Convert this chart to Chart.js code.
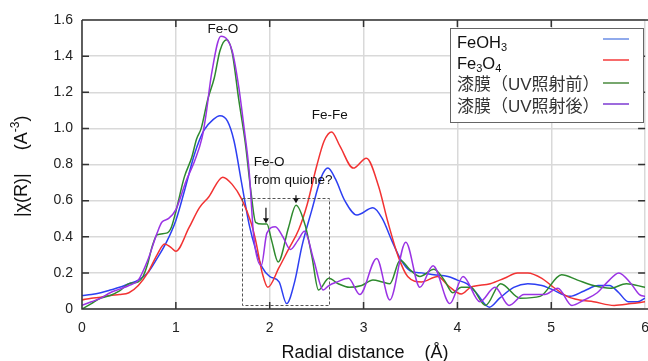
<!DOCTYPE html>
<html><head><meta charset="utf-8">
<script src="https://cdn.jsdelivr.net/npm/chart.js@4"></script>
<style>html,body{margin:0;padding:0;overflow:hidden;background:#fff}#wrap{width:660px;height:361px}</style>
</head><body><div id="wrap"><canvas id="c" width="660" height="361" style="width:660px;height:361px"></canvas></div>
<script>
// ---- data (radial distance Å, |χ(R)|) ----
const rBlue=[0,0.1,0.2,0.3,0.4,0.5,0.6,0.7,0.8,0.9,1.0,1.1,1.2,1.3,1.4,1.47,1.55,1.62,1.7,1.78,1.85,1.92,2.0,2.1,2.18,2.27,2.34,2.45,2.55,2.62,2.7,2.8,2.93,3.1,3.2,3.3,3.4,3.5,3.62,3.75,3.9,4.0,4.1,4.2,4.34,4.45,4.6,4.75,4.9,5.0,5.2,5.35,5.5,5.62,5.72,5.82,5.92,6.0];
const vBlue=[0.075,0.08,0.09,0.105,0.12,0.14,0.16,0.2,0.28,0.37,0.49,0.67,0.86,0.99,1.05,1.07,1.04,0.93,0.7,0.47,0.33,0.23,0.18,0.15,0.03,0.16,0.34,0.55,0.73,0.78,0.72,0.6,0.52,0.56,0.5,0.38,0.27,0.21,0.2,0.19,0.18,0.16,0.14,0.09,0.01,0.06,0.12,0.14,0.13,0.11,0.07,0.1,0.13,0.13,0.09,0.04,0.04,0.06];
const rRed=[0,0.1,0.2,0.3,0.4,0.5,0.6,0.7,0.8,0.88,0.95,1.0,1.14,1.25,1.35,1.5,1.6,1.7,1.8,1.85,1.92,1.98,2.1,2.2,2.31,2.4,2.5,2.58,2.66,2.75,2.89,3.03,3.16,3.26,3.37,3.47,3.62,3.79,3.9,4.04,4.14,4.35,4.5,4.64,4.75,4.9,5.0,5.17,5.3,5.45,5.67,5.85,6.0];
const vRed=[0.05,0.06,0.065,0.075,0.08,0.09,0.13,0.2,0.3,0.36,0.34,0.32,0.45,0.56,0.62,0.73,0.69,0.61,0.48,0.38,0.2,0.12,0.23,0.33,0.44,0.58,0.79,0.93,0.98,0.9,0.78,0.835,0.68,0.48,0.29,0.18,0.15,0.18,0.13,0.083,0.12,0.14,0.17,0.2,0.2,0.17,0.13,0.07,0.05,0.04,0.02,0.03,0.04];
const rGreen=[0,0.1,0.2,0.3,0.4,0.5,0.6,0.65,0.7,0.75,0.8,0.9,0.95,1.0,1.09,1.17,1.22,1.27,1.34,1.41,1.47,1.54,1.6,1.67,1.74,1.8,1.85,1.92,1.97,2.02,2.09,2.2,2.28,2.38,2.45,2.52,2.63,2.73,2.85,2.98,3.1,3.2,3.28,3.39,3.49,3.6,3.75,3.86,3.95,4.04,4.14,4.3,4.46,4.67,4.88,5.11,5.28,5.45,5.63,5.8,6.0];
const vGreen=[0.0,0.03,0.06,0.075,0.1,0.14,0.15,0.18,0.25,0.35,0.41,0.42,0.45,0.54,0.73,0.84,0.94,1.0,1.16,1.28,1.43,1.49,1.42,1.16,0.92,0.65,0.48,0.47,0.47,0.38,0.26,0.45,0.575,0.46,0.29,0.105,0.17,0.14,0.12,0.13,0.16,0.15,0.14,0.27,0.22,0.18,0.22,0.16,0.09,0.12,0.12,0.02,0.14,0.06,0.07,0.19,0.16,0.13,0.115,0.14,0.12];
const rPurple=[0,0.1,0.2,0.3,0.4,0.5,0.6,0.7,0.8,0.85,0.92,1.0,1.11,1.2,1.28,1.32,1.38,1.48,1.55,1.6,1.67,1.73,1.78,1.83,1.91,1.97,2.06,2.14,2.22,2.3,2.37,2.47,2.57,2.63,2.72,2.84,2.96,3.14,3.28,3.45,3.6,3.74,3.92,4.06,4.24,4.4,4.55,4.71,4.93,5.07,5.22,5.35,5.49,5.6,5.72,5.85,5.94,6.0];
const vPurple=[0.02,0.04,0.06,0.09,0.11,0.13,0.16,0.27,0.42,0.48,0.5,0.55,0.71,0.82,0.95,1.07,1.3,1.51,1.49,1.43,1.23,0.99,0.77,0.4,0.24,0.42,0.455,0.4,0.33,0.38,0.43,0.27,0.105,0.13,0.15,0.17,0.08,0.28,0.05,0.37,0.12,0.24,0.03,0.18,0.04,0.12,0.02,0.08,0.08,0.115,0.02,0.05,0.09,0.15,0.2,0.14,0.08,0.07];

const seriesR=[rBlue,rRed,rGreen,rPurple];
const seriesV=[vBlue,vRed,vGreen,vPurple];
const seriesNames=['FeOH3','Fe3O4','漆膜（UV照射前）','漆膜（UV照射後）'];
// legend label pieces (sub = subscript)
const legendPieces=[[['FeOH',0],['3',1]],[['Fe',0],['3',1],['O',0],['4',1]],[['漆膜（UV照射前）',0]],[['漆膜（UV照射後）',0]]];
const lineColors=['#2d3ff2','#f23232','#2e8a2e','#9a33e4'];
const legendColors=['#6b8ee6','#f43a3a','#4a8a3e','#7d3ad2'];
const xTicks=[0,1,2,3,4,5,6];
const yTicks=[0,0.2,0.4,0.6,0.8,1,1.2,1.4,1.6];
const xTitle='Radial distance    (Å)';
const yTitleMain='|χ(R)|';
const yTitleUnit=['(A','-3',')'];
const notes=[
  {lines:['Fe-O'],x:1.5,y:1.55,align:'center'},
  {lines:['Fe-Fe'],x:2.64,y:1.075,align:'center'},
  {lines:['Fe-O','from quione?'],x:1.83,y:0.81,align:'left'}
];
const arrows=[{x:1.96,y1:0.56,y2:0.475},{x:2.28,y1:0.63,y2:0.585}];
const dashBox={x1:1.7,x2:2.63,y1:0.02,y2:0.615};

const FONT="'Liberation Sans', Arial, 'Noto Sans CJK JP', sans-serif";

const datasets=seriesNames.map((n,i)=>({
  label:n,
  data:seriesR[i].map((r,j)=>({x:r,y:seriesV[i][j]})),
  borderColor:lineColors[i],borderWidth:1.5,pointRadius:0,
  cubicInterpolationMode:'monotone',fill:false,order:3-i
}));

const decor={
  id:'decor',
  afterDatasetsDraw(chart){
    const ctx=chart.ctx, a=chart.chartArea, xs=chart.scales.x, ys=chart.scales.y;
    ctx.save();
    // dashed box
    ctx.strokeStyle='#555';ctx.lineWidth=1;ctx.setLineDash([3,2]);
    const bx1=Math.round(xs.getPixelForValue(dashBox.x1))+0.5, bx2=Math.round(xs.getPixelForValue(dashBox.x2))+0.5;
    const by1=Math.round(ys.getPixelForValue(dashBox.y2))+0.5, by2=Math.round(ys.getPixelForValue(dashBox.y1))+0.5;
    ctx.strokeRect(bx1,by1,bx2-bx1,by2-by1);
    ctx.setLineDash([]);
    // arrows
    ctx.strokeStyle='#111';ctx.fillStyle='#111';ctx.lineWidth=1.2;
    arrows.forEach(ar=>{
      const x=xs.getPixelForValue(ar.x), y1=ys.getPixelForValue(ar.y1), y2=ys.getPixelForValue(ar.y2);
      ctx.beginPath();ctx.moveTo(x,y1);ctx.lineTo(x,y2-4);ctx.stroke();
      ctx.beginPath();ctx.moveTo(x-3,y2-5);ctx.lineTo(x+3,y2-5);ctx.lineTo(x,y2);ctx.closePath();ctx.fill();
    });
    // notes
    ctx.font='13.5px '+FONT;ctx.fillStyle='#111';ctx.textBaseline='middle';
    notes.forEach(n=>{
      ctx.textAlign=n.align;
      const x=xs.getPixelForValue(n.x), y=ys.getPixelForValue(n.y);
      n.lines.forEach((l,k)=>ctx.fillText(l,x,y+k*18));
    });
    // frame
    ctx.strokeStyle='#333';ctx.lineWidth=1.5;
    ctx.beginPath();
    ctx.moveTo(a.left,a.top);ctx.lineTo(a.right+12,a.top);
    ctx.moveTo(a.left,a.top);ctx.lineTo(a.left,a.bottom);
    ctx.lineTo(a.right+12,a.bottom);
    ctx.stroke();
    // inward ticks
    ctx.beginPath();
    xTicks.slice(1,-1).forEach(v=>{const x=xs.getPixelForValue(v);
      ctx.moveTo(x,a.bottom);ctx.lineTo(x,a.bottom-7);ctx.moveTo(x,a.top);ctx.lineTo(x,a.top+7);});
    yTicks.slice(1,-1).forEach(v=>{const y=ys.getPixelForValue(v);
      ctx.moveTo(a.left,y);ctx.lineTo(a.left+7,y);ctx.moveTo(a.right,y);ctx.lineTo(a.right-7,y);});
    ctx.stroke();
    // legend box
    const L={x:450,y:28,w:193,h:94};
    ctx.fillStyle='#fff';ctx.fillRect(L.x,L.y,L.w,L.h);
    ctx.strokeStyle='#666';ctx.lineWidth=1;ctx.strokeRect(L.x+0.5,L.y+0.5,L.w,L.h);
    const rowY=[43,64,85,107], lineY=[39,60,83,104];
    legendPieces.forEach((pcs,i)=>{
      let x=L.x+7;
      ctx.textAlign='left';ctx.textBaseline='middle';ctx.fillStyle=i<2?'#111':'#333';
      pcs.forEach(([t,sub])=>{
        ctx.font=(sub?'11px ':(i<2?'16.5px ':'17px '))+FONT;
        ctx.fillText(t,x,rowY[i]+(sub?5:0));
        x+=ctx.measureText(t).width;
      });
      ctx.strokeStyle=legendColors[i];ctx.lineWidth=1.5;
      ctx.beginPath();ctx.moveTo(603,lineY[i]);ctx.lineTo(629,lineY[i]);ctx.stroke();
    });
    // axis titles
    ctx.fillStyle='#111';ctx.font='18px '+FONT;ctx.textAlign='center';ctx.textBaseline='middle';
    ctx.fillText(xTitle,365,353);
    ctx.save();ctx.translate(22,165);ctx.rotate(-Math.PI/2);
    ctx.textAlign='left';
    let px=-52;
    ctx.font='18px '+FONT;ctx.fillText(yTitleMain,px,0);px+=ctx.measureText(yTitleMain).width+23;
    ctx.fillText(yTitleUnit[0],px,0);px+=ctx.measureText(yTitleUnit[0]).width;
    ctx.font='12px '+FONT;ctx.fillText(yTitleUnit[1],px,-6);px+=ctx.measureText(yTitleUnit[1]).width;
    ctx.font='18px '+FONT;ctx.fillText(yTitleUnit[2],px,0);
    ctx.restore();
    ctx.restore();
  }
};

new Chart(document.getElementById('c'),{
  type:'line',
  data:{datasets},
  options:{
    responsive:false,animation:false,devicePixelRatio:1,
    layout:{padding:{left:0,right:12,top:20,bottom:0}},
    plugins:{legend:{display:false},tooltip:{enabled:false}},
    scales:{
      x:{type:'linear',min:0,max:6,
        afterFit(s){s.height=52;},
        afterBuildTicks(s){s.ticks=xTicks.map(v=>({value:v}));},
        grid:{color:'#d9d9d9',lineWidth:1.5,drawTicks:false},
        border:{display:false},
        ticks:{padding:11,color:'#222',font:{family:FONT,size:14},maxRotation:0,autoSkip:false}},
      y:{type:'linear',min:0,max:1.6,
        afterFit(s){s.width=82;},
        afterBuildTicks(s){s.ticks=yTicks.map(v=>({value:v}));},
        grid:{color:'#d9d9d9',lineWidth:1.5,drawTicks:false},
        border:{display:false},
        ticks:{padding:9,color:'#222',font:{family:FONT,size:14},autoSkip:false}}
    }
  },
  plugins:[decor]
});
</script>
</body></html>
